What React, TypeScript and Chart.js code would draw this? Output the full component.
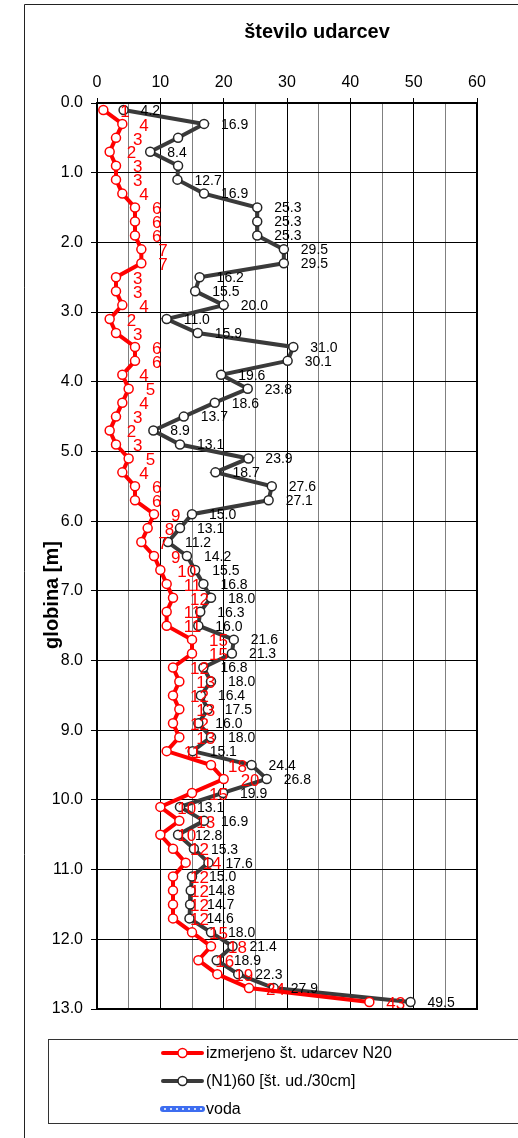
import React, { useEffect, useRef } from 'react';
import { Chart, registerables } from 'chart.js';

Chart.register(...registerables);

const FONT = "'Liberation Sans', Arial, sans-serif";

const chartTitle = 'število udarcev';
const yAxisTitle = 'globina [m]';

const depths = [
  0.1, 0.3, 0.5, 0.7, 0.9, 1.1, 1.3, 1.5, 1.7, 1.9,
  2.1, 2.3, 2.5, 2.7, 2.9, 3.1, 3.3, 3.5, 3.7, 3.9,
  4.1, 4.3, 4.5, 4.7, 4.9, 5.1, 5.3, 5.5, 5.7, 5.9,
  6.1, 6.3, 6.5, 6.7, 6.9, 7.1, 7.3, 7.5, 7.7, 7.9,
  8.1, 8.3, 8.5, 8.7, 8.9, 9.1, 9.3, 9.5, 9.7, 9.9,
  10.1, 10.3, 10.5, 10.7, 10.9, 11.1, 11.3, 11.5, 11.7, 11.9,
  12.1, 12.3, 12.5, 12.7, 12.9,
];

const n20 = [
  1, 4, 3, 2, 3, 3, 4, 6, 6, 6,
  7, 7, 3, 3, 4, 2, 3, 6, 6, 4,
  5, 4, 3, 2, 3, 5, 4, 6, 6, 9,
  8, 7, 9, 10, 11, 12, 11, 11, 15, 15,
  12, 13, 12, 13, 12, 13, 11, 18, 20, 15,
  10, 13, 10, 12, 14, 12, 12, 12, 12, 15,
  18, 16, 19, 24, 43,
];

const n160 = [
  4.2, 16.9, 12.8, 8.4, 12.8, 12.7, 16.9, 25.3, 25.3, 25.3,
  29.5, 29.5, 16.2, 15.5, 20.0, 11.0, 15.9, 31.0, 30.1, 19.6,
  23.8, 18.6, 13.7, 8.9, 13.1, 23.9, 18.7, 27.6, 27.1, 15.0,
  13.1, 11.2, 14.2, 15.5, 16.8, 18.0, 16.3, 16.0, 21.6, 21.3,
  16.8, 18.0, 16.4, 17.5, 16.0, 18.0, 15.1, 24.4, 26.8, 19.9,
  13.1, 16.9, 12.8, 15.3, 17.6, 15.0, 14.8, 14.7, 14.6, 18.0,
  21.4, 18.9, 22.3, 27.9, 49.5,
];

// indices of (N1)60 points whose value label is not shown in the reference
const n160HiddenLabels = [2, 4];

const seriesNames = ['izmerjeno št. udarcev N20', '(N1)60 [št. ud./30cm]', 'voda'];

const xMin = 0;
const xMax = 60;
const yMin = 0;
const yMax = 13;

const RED = '#FF0000';
const DARK = '#3a3a3a';
const BLUE = '#3d6df0';

const decorPlugin = {
  id: 'decor',
  beforeDraw(chart: any) {
    const ctx = chart.ctx;
    ctx.save();
    ctx.fillStyle = '#fff';
    ctx.fillRect(0, 0, chart.width, chart.height);
    ctx.restore();
  },
  afterDatasetsDraw(chart: any) {
    const ctx = chart.ctx;
    ctx.save();
    ctx.textBaseline = 'middle';
    ctx.textAlign = 'left';
    // black labels
    const m1 = chart.getDatasetMeta(1);
    ctx.font = `14px ${FONT}`;
    ctx.fillStyle = '#000';
    m1.data.forEach((pt: any, i: number) => {
      if (n160HiddenLabels.includes(i)) return;
      ctx.fillText(n160[i].toFixed(1), pt.x + 17, pt.y + 1);
    });
    // red labels
    const m0 = chart.getDatasetMeta(0);
    ctx.font = `17px ${FONT}`;
    ctx.fillStyle = RED;
    m0.data.forEach((pt: any, i: number) => {
      ctx.fillText(String(n20[i]), pt.x + 17, pt.y + 2);
    });
    ctx.restore();
  },
  afterDraw(chart: any) {
    const ctx = chart.ctx;
    const a = chart.chartArea;
    ctx.save();
    // outer chart border
    ctx.strokeStyle = '#222';
    ctx.lineWidth = 1;
    ctx.beginPath();
    ctx.moveTo(24.5, chart.height);
    ctx.lineTo(24.5, 4.5);
    ctx.lineTo(chart.width, 4.5);
    ctx.stroke();
    // plot border
    ctx.strokeStyle = '#000';
    ctx.lineWidth = 2;
    ctx.strokeRect(a.left, a.top, a.right - a.left, a.bottom - a.top);
    // title
    ctx.fillStyle = '#000';
    ctx.font = `bold 20px ${FONT}`;
    ctx.textAlign = 'center';
    ctx.textBaseline = 'middle';
    ctx.fillText(chartTitle, 317, 32);
    // y axis title
    ctx.save();
    ctx.translate(52, 595);
    ctx.rotate(-Math.PI / 2);
    ctx.fillText(yAxisTitle, 0, 0);
    ctx.restore();
    // legend box
    ctx.strokeStyle = '#333';
    ctx.lineWidth = 1;
    ctx.strokeRect(48.5, 1039.5, chart.width, 84);
    const ys = [1053, 1081, 1109];
    chart.data.datasets.forEach((ds: any, i: number) => {
      const y = ys[i];
      const x0 = 161;
      const x1 = 204;
      if (ds.legendDots) {
        ctx.strokeStyle = ds.borderColor;
        ctx.lineWidth = 6;
        ctx.lineCap = 'round';
        ctx.beginPath();
        ctx.moveTo(x0 + 2, y);
        ctx.lineTo(x1 - 2, y);
        ctx.stroke();
        ctx.fillStyle = '#fff';
        for (let x = x0 + 4; x <= x1 - 3; x += 6) {
          ctx.beginPath();
          ctx.arc(x, y, 1, 0, Math.PI * 2);
          ctx.fill();
        }
      } else {
        ctx.strokeStyle = ds.borderColor;
        ctx.lineWidth = 4;
        ctx.lineCap = 'round';
        ctx.beginPath();
        ctx.moveTo(x0 + 2, y);
        ctx.lineTo(x1 - 2, y);
        ctx.stroke();
        ctx.lineWidth = 1.5;
        ctx.fillStyle = '#fff';
        ctx.strokeStyle = ds.pointBorderColor;
        ctx.beginPath();
        ctx.arc((x0 + x1) / 2, y, 4.5, 0, Math.PI * 2);
        ctx.fill();
        ctx.stroke();
      }
      ctx.fillStyle = '#000';
      ctx.font = `16px ${FONT}`;
      ctx.textAlign = 'left';
      ctx.textBaseline = 'middle';
      ctx.fillText(ds.label, 206, y + 1);
    });
    ctx.restore();
  },
};

export default function App() {
  const ref = useRef<HTMLCanvasElement | null>(null);

  useEffect(() => {
    if (!ref.current) return;
    Chart.defaults.font.family = FONT;
    const chart = new Chart(ref.current, {
      type: 'line',
      data: {
        datasets: [
          {
            label: seriesNames[0],
            data: depths.map((d, i) => ({ x: n20[i], y: d })),
            borderColor: RED,
            borderWidth: 4,
            pointRadius: 4.5,
            pointBackgroundColor: '#fff',
            pointBorderColor: RED,
            pointBorderWidth: 1.5,
            tension: 0,
          },
          {
            label: seriesNames[1],
            data: depths.map((d, i) => ({ x: n160[i], y: d })),
            borderColor: DARK,
            borderWidth: 4,
            pointRadius: 4.5,
            pointBackgroundColor: '#fff',
            pointBorderColor: '#262626',
            pointBorderWidth: 1.5,
            tension: 0,
          },
          {
            label: seriesNames[2],
            data: [],
            borderColor: BLUE,
            borderWidth: 4,
            pointRadius: 0,
            legendDots: true,
          } as any,
        ],
      },
      options: {
        responsive: false,
        animation: false,
        devicePixelRatio: 1,
        layout: { padding: { left: 0, top: 0, right: 41, bottom: 129 } },
        plugins: {
          legend: { display: false },
          title: { display: false },
          tooltip: { enabled: false },
        },
        scales: {
          x: {
            type: 'linear',
            position: 'top',
            min: xMin,
            max: xMax,
            afterFit(scale: any) {
              scale.height = 103;
            },
            border: { display: false },
            grid: {
              color: (c: any) => (c.tick && c.tick.value % 10 === 0 ? '#000' : '#808080'),
              tickColor: (c: any) => (c.tick && c.tick.value % 10 === 0 ? '#000' : 'rgba(0,0,0,0)'),
              tickLength: 5,
              lineWidth: 1,
            },
            ticks: {
              stepSize: 5,
              padding: 6,
              color: '#000',
              font: { size: 16 },
              maxRotation: 0,
              autoSkip: false,
              callback: (v: any) => (Number(v) % 10 === 0 ? String(v) : ''),
            },
          },
          y: {
            type: 'linear',
            reverse: true,
            min: yMin,
            max: yMax,
            afterFit(scale: any) {
              scale.width = 97;
            },
            border: { display: false },
            grid: {
              color: '#000',
              tickColor: '#000',
              tickLength: 6,
              lineWidth: 1,
            },
            ticks: {
              stepSize: 1,
              padding: 8,
              color: '#000',
              font: { size: 16 },
              autoSkip: false,
              callback: (v: any) => Number(v).toFixed(1),
            },
          },
        },
      },
      plugins: [decorPlugin],
    });
    return () => chart.destroy();
  }, []);

  return (
    <div style={{ position: 'absolute', left: 0, top: 0, width: 518, height: 1138 }}>
      <canvas ref={ref} width={518} height={1138} style={{ width: 518, height: 1138, display: 'block' }} />
    </div>
  );
}
